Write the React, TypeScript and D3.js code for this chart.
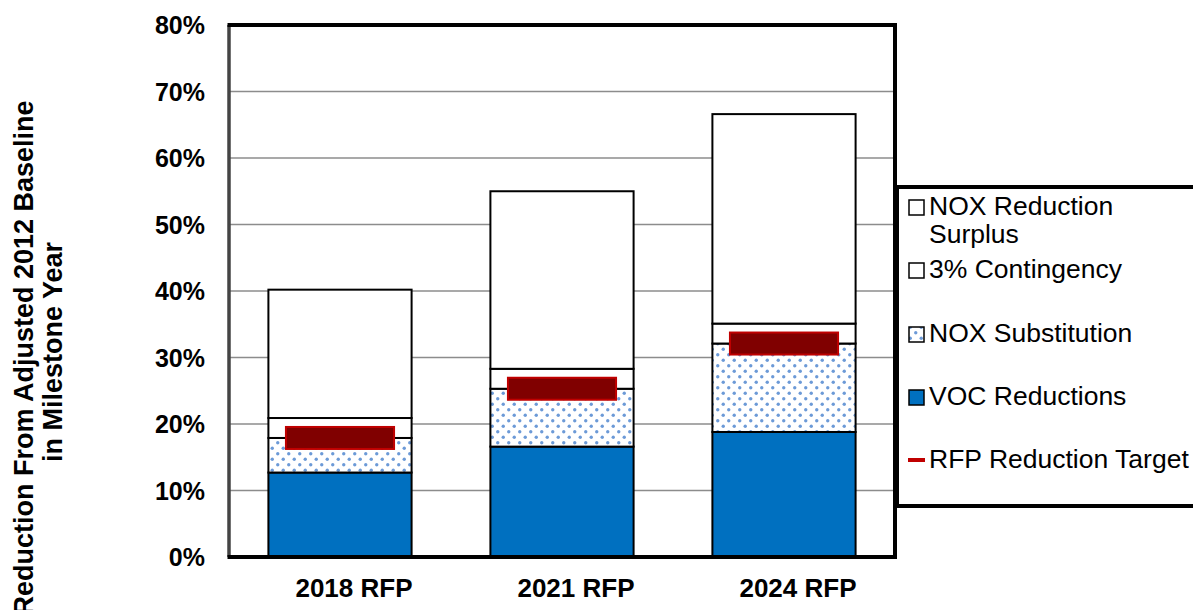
import React from "react";
import * as d3 from "d3";

const categories = ["2018 RFP", "2021 RFP", "2024 RFP"];
const vocReductions = [12.7, 16.6, 18.8];
const noxSubstitution = [5.2, 8.7, 13.3];
const contingency = [3.0, 3.0, 3.0];
const noxSurplus = [19.3, 26.7, 31.5];
const rfpTarget = [17.9, 25.3, 32.1];
const yTicks = [0, 10, 20, 30, 40, 50, 60, 70, 80];

const seriesKeys = ["voc", "noxSub", "cont", "surplus"];
const seriesFill: Record<string, string> = {
  voc: "#0070c0",
  noxSub: "url(#dots)",
  cont: "#ffffff",
  surplus: "#ffffff",
};

const legendItems = [
  { label: ["NOX Reduction", "Surplus"], kind: "square", fill: "#ffffff", y: 215 },
  { label: ["3% Contingency"], kind: "square", fill: "#ffffff", y: 278 },
  { label: ["NOX Substitution"], kind: "square", fill: "url(#dots)", y: 342 },
  { label: ["VOC Reductions"], kind: "square", fill: "#0070c0", y: 405 },
  { label: ["RFP Reduction Target"], kind: "line", fill: "#c00000", y: 468 },
];

export default function App() {
  const W = 1193, H = 610;
  const left = 229, right = 895, top = 25, bottom = 557;
  const x = d3.scaleBand<string>().domain(categories).range([left, right]).paddingInner(0.355).paddingOuter(0.1775);
  const y = d3.scaleLinear().domain([0, 80]).range([bottom, top]);

  const rows = categories.map((c, i) => ({
    cat: c,
    voc: vocReductions[i],
    noxSub: noxSubstitution[i],
    cont: contingency[i],
    surplus: noxSurplus[i],
  }));
  const stacked = d3.stack<any>().keys(seriesKeys)(rows);
  const bw = x.bandwidth();
  const markerW = bw * 0.755;
  const font = "'Liberation Sans', Arial, sans-serif";

  return (
    <svg width={W} height={H} style={{ position: "absolute", left: 0, top: 0, background: "#fff" }} fontFamily={font}>
      <defs>
        <pattern id="dots" width={11} height={11} patternUnits="userSpaceOnUse">
          <rect width={11} height={11} fill="#ffffff" />
          <circle cx={2.75} cy={2.75} r={1.7} fill="#5289d0" opacity={0.85} />
          <circle cx={8.25} cy={8.25} r={1.7} fill="#5289d0" opacity={0.85} />
        </pattern>
      </defs>

      {/* gridlines */}
      {yTicks.filter((t) => t > 0 && t < 80).map((t) => (
        <line key={t} x1={left} x2={right} y1={y(t)} y2={y(t)} stroke="#8c8c8c" strokeWidth={1.5} />
      ))}

      {/* bars */}
      {stacked.map((s) => (
        <g key={s.key}>
          {s.map((d, i) => (
            <rect
              key={i}
              x={x(categories[i])!}
              y={y(d[1])}
              width={bw}
              height={y(d[0]) - y(d[1])}
              fill={seriesFill[s.key]}
              stroke="#000"
              strokeWidth={2}
            />
          ))}
        </g>
      ))}

      {/* RFP target markers */}
      {rfpTarget.map((v, i) => (
        <rect
          key={i}
          x={x(categories[i])! + (bw - markerW) / 2}
          y={y(v) - 11}
          width={markerW}
          height={22}
          fill="#800000"
          stroke="#c00000"
          strokeWidth={2}
        />
      ))}

      {/* plot border */}
      <line x1={left} x2={left} y1={top} y2={bottom} stroke="#444" strokeWidth={3.5} />
      <line x1={left - 1.5} x2={right + 2} y1={top} y2={top} stroke="#000" strokeWidth={4} />
      <line x1={right} x2={right} y1={top} y2={bottom + 2} stroke="#000" strokeWidth={4} />
      <line x1={left - 1.5} x2={right + 2} y1={bottom} y2={bottom} stroke="#000" strokeWidth={4} />

      {/* y ticks */}
      {yTicks.map((t) => (
        <text key={t} x={205} y={y(t)} dy="0.36em" textAnchor="end" fontSize={25} fontWeight="bold" fill="#000">
          {t}%
        </text>
      ))}

      {/* x labels */}
      {categories.map((c) => (
        <text
          key={c}
          x={x(c)! + bw / 2 + 14}
          y={597}
          textAnchor="middle"
          fontSize={26}
          fontWeight="bold"
          fill="#000"
        >
          {c}
        </text>
      ))}

      {/* y title */}
      <g transform="rotate(-90)">
        <text x={-358} y={33} textAnchor="middle" fontSize={27} fontWeight="bold" fill="#000">
          Reduction From Adjusted 2012 Baseline
        </text>
        <text x={-352} y={62} textAnchor="middle" fontSize={27} fontWeight="bold" fill="#000">
          in Milestone Year
        </text>
      </g>

      {/* legend */}
      <rect x={897} y={187} width={400} height={319} fill="#fff" stroke="#000" strokeWidth={4} />
      {legendItems.map((it) => (
        <g key={it.label[0]}>
          {it.kind === "square" ? (
            <rect x={909} y={it.y - 15} width={15} height={15} fill={it.fill} stroke="#000" strokeWidth={1.5} />
          ) : (
            <line x1={908} x2={925} y1={it.y - 8} y2={it.y - 8} stroke={it.fill} strokeWidth={4} />
          )}
          {it.label.map((l, j) => (
            <text key={j} x={929} y={it.y + j * 28} fontSize={26.5} fill="#000">
              {l}
            </text>
          ))}
        </g>
      ))}
    </svg>
  );
}
